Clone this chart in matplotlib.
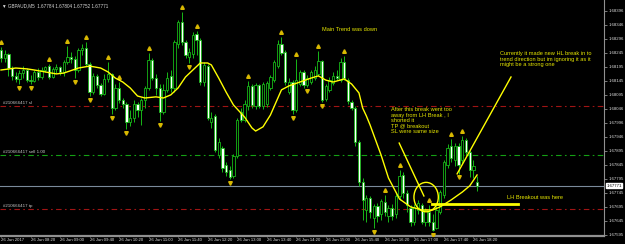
import matplotlib.pyplot as plt
import matplotlib.transforms as mtransforms
from matplotlib.patches import Ellipse
import numpy as np

symbol = "GBPAUD,M5"

opens = [1.68255, 1.68227, 1.68241, 1.68191, 1.68163, 1.68152, 1.68173, 1.68184, 1.68148, 1.68145,
         1.68177, 1.68159, 1.68184, 1.68198, 1.68159, 1.68188, 1.68195, 1.68177, 1.68213, 1.68230,
         1.68223, 1.68184, 1.68255, 1.68263, 1.68205, 1.68105, 1.68163, 1.68130, 1.68098, 1.68152,
         1.68170, 1.68048, 1.68120, 1.68077, 1.68063, 1.67998, 1.68013, 1.68063, 1.68041, 1.68077,
         1.68120, 1.68220, 1.68155, 1.68120, 1.68034, 1.68113, 1.68163, 1.68120, 1.68277, 1.68355,
         1.68284, 1.68230, 1.68241, 1.68313, 1.68291, 1.68141, 1.68198, 1.67998, 1.68020, 1.67880,
         1.67905, 1.67845, 1.67827, 1.67805, 1.67877, 1.68034, 1.68005, 1.68055, 1.68127, 1.68055,
         1.68130, 1.68055, 1.68063, 1.68120, 1.68148, 1.68198, 1.68277, 1.68248, 1.68105, 1.68141,
         1.68041, 1.68134, 1.68177, 1.68130, 1.68141, 1.68155, 1.68170, 1.68216, 1.68080, 1.68113,
         1.68138, 1.68163, 1.68148, 1.68213, 1.68148, 1.68070, 1.68048, 1.67927, 1.67784, 1.67684,
         1.67727, 1.67655, 1.67698, 1.67670, 1.67713, 1.67663, 1.67691, 1.67670, 1.67734, 1.67809,
         1.67745, 1.67691, 1.67641, 1.67684, 1.67702, 1.67641, 1.67677, 1.67641, 1.67620, 1.67677,
         1.67738, 1.67845, 1.67913, 1.67863, 1.67913, 1.67863, 1.67934, 1.67891, 1.67827, 1.67784]
highs = [1.68266, 1.68255, 1.68245, 1.68198, 1.68177, 1.68184, 1.68198, 1.68191, 1.68166, 1.68184,
         1.68191, 1.68195, 1.68198, 1.68205, 1.68195, 1.68205, 1.68198, 1.68220, 1.68270, 1.68248,
         1.68234, 1.68263, 1.68277, 1.68284, 1.68213, 1.68173, 1.68170, 1.68138, 1.68170, 1.68213,
         1.68173, 1.68134, 1.68141, 1.68084, 1.68070, 1.68041, 1.68077, 1.68070, 1.68084, 1.68127,
         1.68245, 1.68227, 1.68170, 1.68134, 1.68134, 1.68177, 1.68184, 1.68291, 1.68363, 1.68391,
         1.68291, 1.68263, 1.68320, 1.68323, 1.68298, 1.68213, 1.68205, 1.68034, 1.68027, 1.67941,
         1.67913, 1.67855, 1.67841, 1.67884, 1.68013, 1.68048, 1.68077, 1.68145, 1.68134, 1.68138,
         1.68134, 1.68141, 1.68145, 1.68166, 1.68220, 1.68291, 1.68302, 1.68255, 1.68155, 1.68148,
         1.68223, 1.68184, 1.68184, 1.68166, 1.68184, 1.68198, 1.68252, 1.68220, 1.68134, 1.68159,
         1.68177, 1.68184, 1.68227, 1.68234, 1.68155, 1.68077, 1.68055, 1.67934, 1.67798, 1.67738,
         1.67734, 1.67705, 1.67709, 1.67723, 1.67738, 1.67702, 1.67705, 1.67748, 1.67827, 1.67820,
         1.67755, 1.67702, 1.67705, 1.67720, 1.67709, 1.67691, 1.67702, 1.67670, 1.67698, 1.67755,
         1.67863, 1.67920, 1.67938, 1.67923, 1.67923, 1.67948, 1.67941, 1.67898, 1.67863, 1.67804]
lows = [1.68213, 1.68213, 1.68163, 1.68148, 1.68141, 1.68134, 1.68155, 1.68141, 1.68134, 1.68141,
        1.68148, 1.68152, 1.68177, 1.68152, 1.68155, 1.68173, 1.68166, 1.68163, 1.68205, 1.68209,
        1.68155, 1.68177, 1.68238, 1.68198, 1.68091, 1.68098, 1.68120, 1.68091, 1.68095, 1.68141,
        1.68027, 1.68041, 1.68066, 1.68048, 1.67973, 1.67984, 1.67998, 1.68016, 1.67988, 1.68048,
        1.68113, 1.68148, 1.68095, 1.68002, 1.68027, 1.68105, 1.68105, 1.68105, 1.68263, 1.68273,
        1.68227, 1.68209, 1.68227, 1.68238, 1.68130, 1.68127, 1.68005, 1.67977, 1.67891, 1.67870,
        1.67820, 1.67805, 1.67795, 1.67798, 1.67870, 1.67998, 1.67998, 1.68041, 1.68048, 1.68045,
        1.68048, 1.68045, 1.68052, 1.68113, 1.68141, 1.68191, 1.68238, 1.68130, 1.68098, 1.68027,
        1.68034, 1.68127, 1.68120, 1.68123, 1.68134, 1.68148, 1.68163, 1.68070, 1.68073, 1.68105,
        1.68130, 1.68148, 1.68141, 1.68148, 1.68063, 1.68041, 1.67913, 1.67770, 1.67648, 1.67641,
        1.67655, 1.67620, 1.67641, 1.67648, 1.67663, 1.67641, 1.67648, 1.67655, 1.67720, 1.67727,
        1.67677, 1.67627, 1.67630, 1.67670, 1.67634, 1.67627, 1.67627, 1.67609, 1.67616, 1.67670,
        1.67727, 1.67834, 1.67855, 1.67841, 1.67813, 1.67848, 1.67877, 1.67802, 1.67798, 1.67752]
closes = [1.68227, 1.68241, 1.68191, 1.68163, 1.68152, 1.68173, 1.68184, 1.68148, 1.68145, 1.68177,
          1.68159, 1.68184, 1.68195, 1.68159, 1.68188, 1.68195, 1.68177, 1.68213, 1.68230, 1.68223,
          1.68184, 1.68255, 1.68263, 1.68205, 1.68105, 1.68163, 1.68130, 1.68098, 1.68152, 1.68170,
          1.68048, 1.68120, 1.68077, 1.68063, 1.67998, 1.68013, 1.68063, 1.68041, 1.68077, 1.68120,
          1.68220, 1.68155, 1.68120, 1.68034, 1.68113, 1.68155, 1.68120, 1.68284, 1.68355, 1.68284,
          1.68238, 1.68248, 1.68309, 1.68291, 1.68141, 1.68202, 1.68013, 1.68013, 1.67898, 1.67927,
          1.67834, 1.67820, 1.67802, 1.67877, 1.68005, 1.68005, 1.68063, 1.68127, 1.68059, 1.68130,
          1.68055, 1.68134, 1.68138, 1.68159, 1.68213, 1.68277, 1.68245, 1.68141, 1.68141, 1.68041,
          1.68148, 1.68177, 1.68130, 1.68155, 1.68177, 1.68184, 1.68216, 1.68077, 1.68127, 1.68148,
          1.68163, 1.68155, 1.68213, 1.68155, 1.68073, 1.68048, 1.67927, 1.67784, 1.67720, 1.67727,
          1.67677, 1.67698, 1.67663, 1.67716, 1.67677, 1.67691, 1.67663, 1.67734, 1.67805, 1.67745,
          1.67702, 1.67641, 1.67695, 1.67709, 1.67641, 1.67684, 1.67641, 1.67613, 1.67684, 1.67748,
          1.67855, 1.67905, 1.67870, 1.67913, 1.67845, 1.67934, 1.67891, 1.67827, 1.67841, 1.67771]

# moving average at sample bars
ma_bar = [0, 4, 7, 9, 12, 15, 17, 21, 24, 27, 29, 31, 33, 35, 37, 39, 42, 44, 46, 48,
          50, 52, 54, 56, 57, 59, 61, 63, 66, 68, 69, 71, 73, 76, 78, 81, 84, 86, 88, 90,
          93, 95, 97, 98, 99, 100, 103, 105, 108, 111, 114, 117, 119, 122, 125, 127, 129]
ma_val = [1.68184, 1.68191, 1.68188, 1.68184, 1.68177, 1.68170, 1.68173, 1.68191, 1.68198, 1.68191,
          1.68177, 1.68155, 1.68141, 1.68120, 1.68091, 1.68084, 1.68088, 1.68084, 1.68095, 1.68120,
          1.68159, 1.68184, 1.68209, 1.68209, 1.68202, 1.68155, 1.68105, 1.68059, 1.68016, 1.67977,
          1.67966, 1.67981, 1.68023, 1.68113, 1.68127, 1.68141, 1.68155, 1.68163, 1.68148, 1.68141,
          1.68152, 1.68134, 1.68102, 1.68048, 1.68020, 1.67988, 1.67880, 1.67798, 1.67723, 1.67695,
          1.67684, 1.67684, 1.67695, 1.67720, 1.67748, 1.67770, 1.67809]

fractal_up = [0, 13, 18, 23, 29, 32, 40, 49, 53, 67, 76, 80, 86, 93, 104, 108, 116, 122, 125]
fractal_down = [5, 8, 20, 24, 30, 34, 43, 51, 62, 79, 83, 87, 101, 117, 124]

order_id = "#210666417"
sl_price = 1.68055
entry_price = 1.67880
tp_price = 1.67688
bid = closes[-1]

price_ticks = [1.68396, 1.68346, 1.68296, 1.68245, 1.68195, 1.68145, 1.68095, 1.68046, 1.67996,
               1.67946, 1.67895, 1.67845, 1.67795, 1.67745, 1.67695, 1.67645, 1.67595]
time_labels = ["26 Jun 2017", "26 Jun 08:20", "26 Jun 09:00", "26 Jun 09:40", "26 Jun 10:20",
               "26 Jun 11:00", "26 Jun 11:40", "26 Jun 12:20", "26 Jun 13:00", "26 Jun 13:40",
               "26 Jun 14:20", "26 Jun 15:00", "26 Jun 15:40", "26 Jun 16:20", "26 Jun 17:00",
               "26 Jun 17:40", "26 Jun 18:20"]

o = np.array(opens); h = np.array(highs); l = np.array(lows); c = np.array(closes)
x = np.arange(len(c))
up = c >= o

green = "#17b817"
yellow = "#ffff00"
txt_yellow = "#e8e800"
narrow = ["Liberation Sans Narrow", "Liberation Sans", "DejaVu Sans"]

fig = plt.figure(figsize=(6.25, 2.44), dpi=100, facecolor="black")
ax = fig.add_axes([0, 8 / 244, 604 / 625, 236 / 244])
ax.set_facecolor("black")

# order lines
dashdot = (0, (5, 3, 1.5, 3))
ax.axhline(sl_price, color="#a01414", lw=0.8, ls=dashdot, zorder=1)
ax.axhline(entry_price, color="#14a014", lw=0.8, ls=dashdot, zorder=1)
ax.axhline(tp_price, color="#a01414", lw=0.8, ls=dashdot, zorder=1)
ax.axhline(bid, color="#7a8a9a", lw=0.8, zorder=1)
for p, lab in [(sl_price, "sl"), (entry_price, "sell 1.00"), (tp_price, "tp")]:
    ax.text(0.6, p + 0.00004, f"{order_id} {lab}", color="#c8c8c8", fontsize=3.2,
            va="bottom", ha="left", family=narrow)

# candles
ax.vlines(x, l, h, color=green, lw=0.7, zorder=2)
ax.bar(x[up], (c - o)[up], bottom=o[up], width=0.62, color="black", edgecolor=green, lw=0.6, zorder=3)
ax.bar(x[~up], (o - c)[~up], bottom=c[~up], width=0.62, color="white", edgecolor=green, lw=0.6, zorder=3)

# fractals
ax.plot(fractal_up, h[fractal_up] + 0.00017, ls="none", marker="^", ms=2.6, color="#d8b800", zorder=4)
ax.plot(fractal_down, l[fractal_down] - 0.00013, ls="none", marker="v", ms=2.6, color="#d8b800", zorder=4)

# moving average
ax.plot(ma_bar, ma_val, color=yellow, lw=1.0, zorder=5)

# annotations
fs = 4.1
ax.text(87, 1.68327, "Main Trend was down", color=txt_yellow, fontsize=fs, va="center", family=narrow)
ax.text(105.7, 1.68052, "After this break went too\naway from LH Break , I\nshorted it\nTP @ breakout\nSL were same size",
        color=txt_yellow, fontsize=fs, va="top", linespacing=1.15, family=narrow)
ax.text(135.2, 1.68252, "Currently it made new HL break in to\ntrend direction but im ignoring it as it\nmight be a strong one",
        color=txt_yellow, fontsize=fs, va="top", linespacing=1.15, family=narrow)
ax.text(137.1, 1.67730, "LH Breakout was here", color=txt_yellow, fontsize=fs, va="center", family=narrow)
ax.plot([107.9, 114.6], [1.67923, 1.67734], color=yellow, lw=1.0, zorder=6)
ax.plot([123.6, 138.2], [1.67813, 1.68159], color=yellow, lw=1.0, zorder=6)
ax.plot([116.8, 140.1], [1.67705, 1.67705], color=yellow, lw=2.0, zorder=6)
ax.add_patch(Ellipse((115.2, 1.67730), 6.6, 0.00105, fill=False, edgecolor=yellow, lw=1.0, zorder=6))

# header
ax.text(0.004, 0.988, f"\u25bc {symbol}  {opens[-1]:.5f} {highs[-1]:.5f} {lows[-1]:.5f} {closes[-1]:.5f}",
        transform=ax.transAxes, color="#d8d8d8", fontsize=3.3, va="top", ha="left", family=narrow)

# axes
ax.set_xlim(-0.27, 163.4)
ax.set_ylim(1.67591, 1.68434)
for s in ["top", "left"]:
    ax.spines[s].set_visible(False)
ax.spines["right"].set_color("#909090")
ax.spines["right"].set_linewidth(0.8)
ax.spines["bottom"].set_color("#909090")
ax.spines["bottom"].set_linewidth(1.6)

ax.yaxis.tick_right()
ax.set_yticks(price_ticks)
ax.set_yticklabels([f"{p:.5f}" for p in price_ticks], family=narrow)
ax.tick_params(axis="y", colors="#909090", labelcolor="#e0e0e0", labelsize=3.1, length=2, width=0.6, pad=1)
ax.set_xticks(np.arange(0, len(c), 8))
ax.set_xticklabels(time_labels, ha="left", family=narrow)
ax.tick_params(axis="x", colors="#909090", labelcolor="#e0e0e0", labelsize=3.1, length=2, width=0.6,
               pad=0.5, direction="inout")

blend = mtransforms.blended_transform_factory(ax.transAxes, ax.transData)
ax.text(1.004, bid, f"{bid:.5f}", transform=blend, fontsize=3.1, color="black", va="center", ha="left",
        family=narrow, bbox=dict(boxstyle="square,pad=0.15", fc="white", ec="white"), clip_on=False)

fig.savefig("out.png", dpi=100, facecolor="black")
